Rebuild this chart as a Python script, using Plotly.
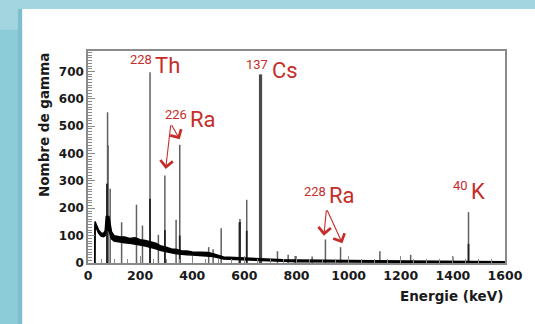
import plotly.graph_objects as go

# ---------------- data ----------------
# continuum band of the spectrum: energy (keV), upper and lower envelope (counts)
energy = [26, 27, 32, 40, 50, 60, 66, 70, 80, 90, 100, 120, 140, 160, 180, 200, 220, 240,
          260, 280, 300, 320, 340, 360, 380, 400, 420, 440, 460, 480, 500, 520, 540, 560,
          580, 600, 650, 700, 750, 800, 850, 900, 950, 1000, 1100, 1200, 1300, 1400, 1500, 1600]
upper = [0, 152, 140, 122, 110, 108, 118, 170, 170, 115, 100, 96, 95, 90, 92, 85, 82, 76,
         72, 62, 58, 51, 49, 44, 44, 40, 39, 37, 38, 34, 28, 22, 21, 20,
         19, 18, 15, 13, 12, 11, 11, 10, 10, 9, 8, 7, 6, 6, 5, 5]
lower = [0, 140, 128, 110, 98, 96, 100, 120, 120, 88, 80, 76, 74, 72, 70, 66, 62, 58,
         52, 46, 41, 37, 34, 31, 30, 29, 28, 27, 26, 24, 19, 15, 14, 13,
         12, 11, 9, 7, 6, 5, 5, 4, 4, 4, 3, 3, 2, 2, 2, 2]

# gamma lines: energy (keV) and peak height (counts)
peak_energy = [73, 75, 77, 85, 129, 186, 209, 238, 270, 295, 338, 352, 463, 480, 511,
               580, 583, 609, 662, 727, 768, 795, 860, 911, 969, 1120, 1238, 1400, 1460]
peak_height = [290, 551, 430, 271, 149, 213, 137, 697, 103, 320, 158, 432, 58, 50, 127,
               148, 161, 231, 689, 43, 30, 26, 24, 86, 58, 43, 30, 24, 186]
# darker lower part of some lines
core_energy = [73, 238, 295, 352, 583, 609, 1460]
core_height = [290, 235, 120, 100, 150, 118, 70]

# isotope labels: superscript mass number, element, anchor (keV, counts)
label_mass = ["228", "137", "226", "228", "40"]
label_elem = ["Th", "Cs", "Ra", "Ra", "K"]
mass_pos = [(155, 743), (600, 724), (288, 543), (822, 262), (1394, 283)]
elem_pos = [(250, 722), (699, 705), (384, 526), (918, 245), (1463, 263)]
# arrows: (tail keV, tail counts, tip keV, tip counts)
arrows = [(318, 509, 298, 344), (318, 509, 352, 452),
          (915, 198, 905, 100), (915, 198, 976, 72)]

x_ticks = [0, 200, 400, 600, 800, 1000, 1200, 1400, 1600]
y_ticks = [0, 100, 200, 300, 400, 500, 600, 700]

RED = "#c62d2a"
NARROW = "Liberation Sans Narrow, Arial Narrow, Roboto, sans-serif"
BOLD = "DejaVu Sans, Liberation Sans, sans-serif"

fig = go.Figure()

# peaks (grey vertical lines)
px, py = [], []
for e, h in zip(peak_energy, peak_height):
    px += [e, e, None]
    py += [0, h, None]
fig.add_trace(go.Scatter(x=px, y=py, mode="lines", line=dict(color="#606060", width=1.5),
                         hoverinfo="skip", showlegend=False))
# strongest line above 600 keV drawn wider
imax = peak_height.index(max(peak_height[i] for i, e in enumerate(peak_energy) if e > 600))
fig.add_trace(go.Scatter(x=[peak_energy[imax], peak_energy[imax]], y=[0, peak_height[imax]],
                         mode="lines", line=dict(color="#4a4a4a", width=3.2),
                         hoverinfo="skip", showlegend=False))
cx, cy = [], []
for e, h in zip(core_energy, core_height):
    cx += [e, e, None]
    cy += [0, h, None]
fig.add_trace(go.Scatter(x=cx, y=cy, mode="lines", line=dict(color="#222222", width=1.8),
                         hoverinfo="skip", showlegend=False))

# continuum band
fig.add_trace(go.Scatter(x=energy, y=lower, mode="lines", line=dict(color="black", width=1.5),
                         hoverinfo="skip", showlegend=False))
fig.add_trace(go.Scatter(x=energy, y=upper, mode="lines", line=dict(color="black", width=1.5),
                         fill="tonexty", fillcolor="black", hoverinfo="skip", showlegend=False))

annotations = []
for m, e, (mx, my), (ex, ey) in zip(label_mass, label_elem, mass_pos, elem_pos):
    annotations.append(dict(x=mx, y=my, xref="x", yref="y", text=m, showarrow=False,
                            xanchor="left", yanchor="middle",
                            font=dict(family=NARROW, size=13, color=RED)))
    annotations.append(dict(x=ex, y=ey, xref="x", yref="y", text=e, showarrow=False,
                            xanchor="left", yanchor="middle",
                            font=dict(family=NARROW, size=22, color=RED)))
for ax_, ay_, tx, ty in arrows:
    annotations.append(dict(x=tx, y=ty, xref="x", yref="y", ax=ax_, ay=ay_, axref="x", ayref="y",
                            text="", showarrow=True, arrowhead=4, arrowsize=2.2, arrowwidth=1.1,
                            arrowcolor=RED, standoff=0, startstandoff=0))
# axis titles
annotations.append(dict(x=-0.106, y=0.65, xref="paper", yref="paper", text="Nombre de gamma",
                        textangle=-90, showarrow=False, xanchor="center", yanchor="middle",
                        font=dict(family=BOLD, size=13.5, color="#1a1a1a", weight="bold")))
annotations.append(dict(x=1.0, y=-0.158, xref="paper", yref="paper", text="Energie (keV)",
                        showarrow=False, xanchor="right", yanchor="middle",
                        font=dict(family=BOLD, size=13.5, color="#1a1a1a", weight="bold")))

shapes = [
    # white panel
    dict(type="rect", xref="paper", yref="paper", x0=-0.158, x1=1.2, y0=-0.4, y1=1.1986,
         fillcolor="white", line=dict(width=0), layer="below"),
    # left darker strip of background
    dict(type="rect", xref="paper", yref="paper", x0=-0.25, x1=-0.158, y0=-0.4, y1=1.1,
         fillcolor="#8ccbd8", line=dict(width=0), layer="below"),
    dict(type="rect", xref="paper", yref="paper", x0=-0.168, x1=-0.158, y0=-0.4, y1=1.1986,
         fillcolor="#7fbfcd", line=dict(width=0), layer="below"),
]

axis_common = dict(showline=True, mirror=True, linecolor="#8a8a8a", linewidth=1.5,
                   ticks="inside", tickcolor="#8a8a8a", showgrid=False, zeroline=False)

fig.update_layout(
    width=535, height=324,
    margin=dict(l=88, r=22, t=51, b=61),
    paper_bgcolor="#a2d5e0", plot_bgcolor="white",
    xaxis=dict(range=[0, 1600], tickvals=x_ticks, ticklen=7, tickwidth=1.2,
               minor=dict(dtick=50, ticks="inside", ticklen=4, tickcolor="#8a8a8a"),
               tickfont=dict(family=BOLD, size=12.5, color="#1a1a1a", weight="bold"),
               **axis_common),
    yaxis=dict(range=[0, 775], tickvals=y_ticks, ticklen=7, tickwidth=1.2,
               minor=dict(dtick=10, ticks="inside", ticklen=4, tickcolor="#8a8a8a"),
               tickfont=dict(family=BOLD, size=12, color="#1a1a1a", weight="bold"),
               **axis_common),
    annotations=annotations, shapes=shapes, showlegend=False,
)

fig.write_html("out.html", config={"displayModeBar": False},
               post_script="document.body.style.margin='0';document.body.style.overflow='hidden';")
